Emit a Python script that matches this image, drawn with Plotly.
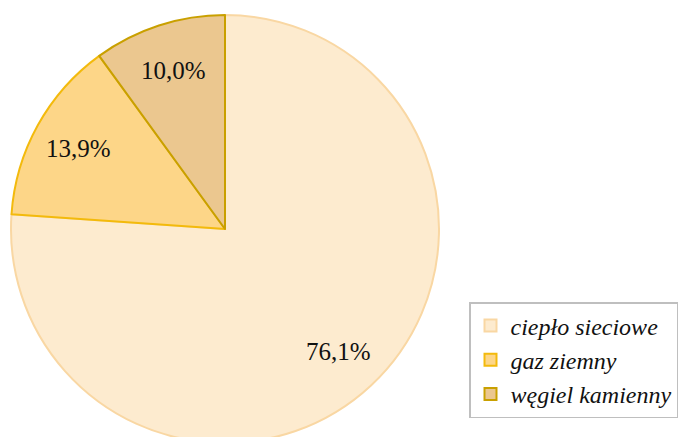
import math
import plotly.graph_objects as go

labels = ["ciepło sieciowe", "gaz ziemny", "węgiel kamienny"]
values = [76.1, 13.9, 10.0]
text_labels = ["76,1%", "13,9%", "10,0%"]

fill_colors = ["#FDEBCF", "#FDD688", "#EBC78F"]
line_colors = ["#F9D7A3", "#F3BA0C", "#C9A000"]

W, H = 687, 443
ml, mt = 11, 15
PW, PH = W - ml, H - mt
R2 = PH  # pie diameter in px
R = R2 / 2
label_radius = 0.78  # fraction of radius where value labels sit

fig = go.Figure(go.Pie(
    labels=labels,
    values=values,
    textinfo="none",
    direction="clockwise",
    rotation=0,
    sort=False,
    marker=dict(colors=fill_colors, line=dict(color=line_colors, width=2)),
    domain=dict(x=[0, R2 / PW], y=[0, 1]),
    hoverinfo="skip",
))

# value labels placed along each slice's bisector
total = sum(values)
cx, cy = (R2 / PW) / 2, 0.5
cum = 0.0
for v, t in zip(values, text_labels):
    mid = (cum + v / 2) / total * 2 * math.pi
    cum += v
    fig.add_annotation(
        x=cx + label_radius * R * math.sin(mid) / PW,
        y=cy + label_radius * R * math.cos(mid) / PH,
        xref="paper", yref="paper",
        text=t, showarrow=False,
        xanchor="center", yanchor="middle",
        font=dict(family="Liberation Serif", size=25, color="#111111"),
    )

fig.update_layout(
    width=W, height=H,
    autosize=False,
    margin=dict(l=ml, r=0, t=mt, b=0, pad=0),
    paper_bgcolor="white",
    plot_bgcolor="white",
    showlegend=True,
    legend=dict(
        x=(469 - ml) / PW, xanchor="left",
        y=1 - (302 - mt) / PH, yanchor="top",
        bordercolor="#BFBFBF", borderwidth=1.5,
        bgcolor="white",
        font=dict(family="Liberation Serif", size=24, color="#111111", style="italic"),
        itemsizing="constant",
        entrywidth=230, entrywidthmode="pixels",
    ),
)

fig.write_html(
    "out.html",
    config={"displayModeBar": False},
    post_script="document.body.style.margin='0';document.body.style.overflow='hidden';document.documentElement.style.overflow='hidden';",
)
